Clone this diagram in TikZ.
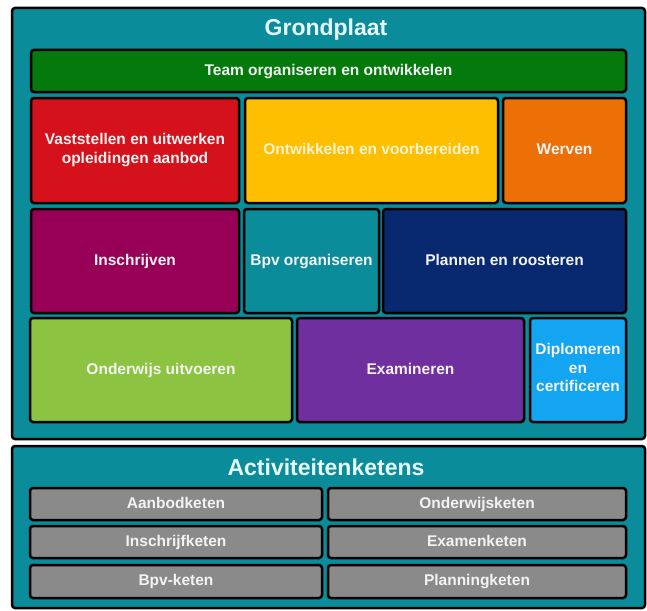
\documentclass[tikz,border=0pt]{standalone}
\usepackage{fontspec}
\setmainfont{Liberation Sans}
\definecolor{tealbg}{HTML}{0A8C9B}
\definecolor{cgreen}{HTML}{057A0C}
\definecolor{cred}{HTML}{D5121B}
\definecolor{cyellow}{HTML}{FDBF00}
\definecolor{corange}{HTML}{EC7005}
\definecolor{cmagenta}{HTML}{970056}
\definecolor{cnavy}{HTML}{08296F}
\definecolor{clgreen}{HTML}{8CC341}
\definecolor{cpurple}{HTML}{6F2F9F}
\definecolor{clblue}{HTML}{13A4F2}
\definecolor{cgrey}{HTML}{8A8A8A}
\definecolor{txt}{HTML}{F3F3F3}
\definecolor{txtyel}{HTML}{FFF3D2}
\definecolor{txttitle}{HTML}{E6F7F8}
\newcommand\mystrut{\rule[-4.5pt]{0pt}{17.5pt}}
\begin{document}
\begin{tikzpicture}[x=1pt,y=-1pt,
  panel/.style={draw=black, line width=2.5pt, rounded corners=3pt, fill=tealbg, inner sep=0pt, outer sep=0pt},
  tile/.style={draw=black, line width=2.5pt, rounded corners=3pt, inner sep=0pt, outer sep=0pt,
    text=txt, align=center, font=\bfseries\fontsize{15.5}{18.5}\selectfont,
    execute at begin node=\mystrut, execute at end node=\mystrut},
  chain/.style={tile, fill=cgrey, minimum height=32pt},
  title/.style={text=txttitle, inner sep=0pt, font=\bfseries\fontsize{23}{27}\selectfont}
]
\useasboundingbox (0,0) rectangle (647,610);
\fill[white] (0,0) rectangle (647,610);
% panels
\node[panel, minimum width=633pt, minimum height=431pt] (grond) at (328.5,223.5) {};
\node[panel, minimum width=633pt, minimum height=162pt] (act) at (328.5,527) {};
\node[title] (tgrond) at (326,30) {Grondplaat};
\node[title] (tact) at (326,467) {Activiteitenketens};
% row 0
\node[tile, fill=cgreen, minimum width=595pt, minimum height=42pt] (team) at (328.5,71) {Team organiseren en ontwikkelen};
% row 1
\node[tile, fill=cred, minimum width=208pt, minimum height=105pt] (vast) at (135,150.5) {Vaststellen en uitwerken\\opleidingen aanbod};
\node[tile, fill=cyellow, text=txtyel, minimum width=253pt, minimum height=105pt] (ontw) at (371.5,150.5) {Ontwikkelen en voorbereiden};
\node[tile, fill=corange, minimum width=123pt, minimum height=105pt] (werv) at (564.5,150.5) {Werven};
% row 2
\node[tile, fill=cmagenta, minimum width=208pt, minimum height=104pt] (insch) at (135,261) {Inschrijven};
\node[tile, fill=tealbg, minimum width=135pt, minimum height=104pt] (bpv) at (311.5,261) {Bpv organiseren};
\node[tile, fill=cnavy, minimum width=243pt, minimum height=104pt] (plan) at (504.5,261) {Plannen en roosteren};
% row 3
\node[tile, fill=clgreen, minimum width=262pt, minimum height=104pt] (onderw) at (161,370) {Onderwijs uitvoeren};
\node[tile, fill=cpurple, minimum width=227pt, minimum height=104pt] (exam) at (410.5,370) {Examineren};
\node[tile, fill=clblue, minimum width=96pt, minimum height=104pt] (dipl) at (578,370) {Diplomeren\\en\\certificeren};
% chains
\node[chain, minimum width=292pt] (k1) at (176,504) {Aanbodketen};
\node[chain, minimum width=298pt] (k2) at (477,504) {Onderwijsketen};
\node[chain, minimum width=292pt] (k3) at (176,542) {Inschrijfketen};
\node[chain, minimum width=298pt] (k4) at (477,542) {Examenketen};
\node[chain, minimum width=292pt, minimum height=33pt] (k5) at (176,581.5) {Bpv-keten};
\node[chain, minimum width=298pt, minimum height=33pt] (k6) at (477,581.5) {Planningketen};
\end{tikzpicture}
\end{document}
